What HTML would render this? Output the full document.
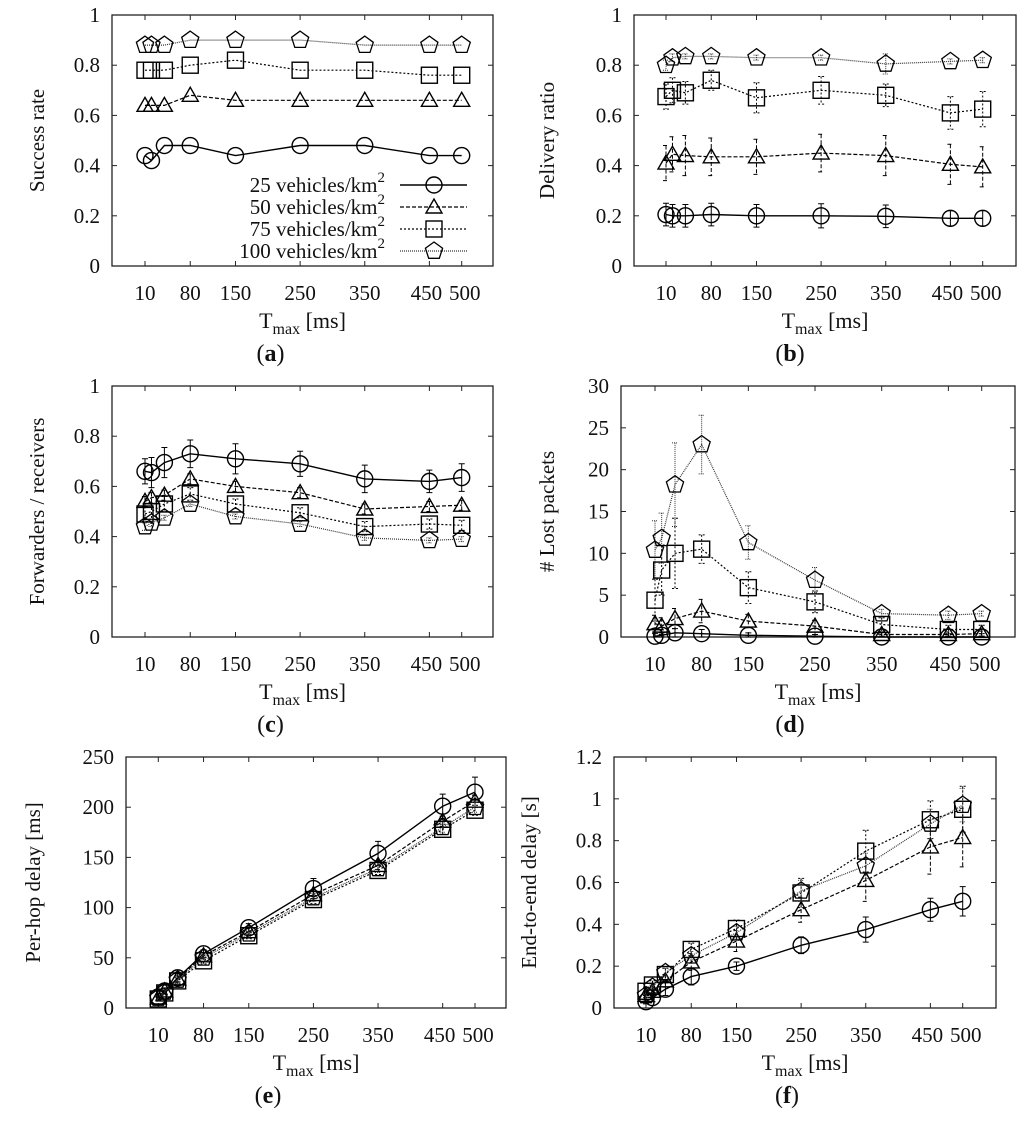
<!DOCTYPE html>
<html><head><meta charset="utf-8"><style>
body{margin:0;background:#fff;}
svg text{font-family:"Liberation Serif",serif;fill:#111;}
</style></head><body>
<svg id="fig" width="1024" height="1117" viewBox="0 0 1024 1117" xmlns="http://www.w3.org/2000/svg"></svg>
<script>
const xVals=[10,20,40,80,150,250,350,450,500];
const xTicks=[10,80,150,250,350,450,500];
const seriesNames=["25 vehicles/km","50 vehicles/km","75 vehicles/km","100 vehicles/km"];
// (a) success rate
const aC=[0.44,0.42,0.48,0.48,0.44,0.48,0.48,0.44,0.44];
const aT=[0.64,0.64,0.64,0.68,0.66,0.66,0.66,0.66,0.66];
const aS=[0.78,0.78,0.78,0.80,0.82,0.78,0.78,0.76,0.76];
const aP=[0.88,0.88,0.88,0.90,0.90,0.90,0.88,0.88,0.88];
// (b) delivery ratio
const bC=[0.205,0.20,0.20,0.205,0.20,0.20,0.198,0.19,0.19];
const bT=[0.41,0.445,0.44,0.435,0.435,0.45,0.44,0.405,0.395];
const bS=[0.675,0.70,0.69,0.74,0.67,0.70,0.68,0.61,0.625];
const bP=[0.80,0.83,0.835,0.835,0.83,0.83,0.805,0.815,0.82];
const bCe=[0.045,0.045,0.045,0.045,0.045,0.048,0.045,0.03,0.03];
const bTe=[0.07,0.07,0.08,0.075,0.07,0.075,0.08,0.08,0.08];
const bSe=[0.05,0.05,0.045,0.04,0.06,0.055,0.045,0.065,0.07];
const bPe=[0.02,0.015,0.01,0.01,0.01,0.01,0.04,0.01,0.01];
// (c) forwarders / receivers
const cC=[0.66,0.655,0.695,0.73,0.71,0.69,0.63,0.62,0.635];
const cT=[0.54,0.555,0.565,0.63,0.60,0.575,0.51,0.52,0.525];
const cS=[0.49,0.50,0.53,0.57,0.53,0.495,0.44,0.45,0.445];
const cP=[0.44,0.455,0.475,0.53,0.48,0.45,0.395,0.385,0.39];
const cCe=[0.05,0.06,0.06,0.055,0.06,0.05,0.055,0.045,0.055];
const cTe=[0.02,0.02,0.02,0.02,0.02,0.02,0.02,0.02,0.02];
const cSe=[0.03,0.03,0.03,0.025,0.02,0.02,0.02,0.02,0.02];
const cPe=[0.015,0.015,0.01,0.01,0.01,0.01,0.01,0.01,0.01];
// (d) lost packets
const dC=[0.1,0.2,0.5,0.4,0.2,0.1,0.0,0.0,0.0];
const dT=[1.6,1.3,2.2,3.1,1.9,1.3,0.3,0.3,0.4];
const dS=[4.4,8.0,10,10.5,5.9,4.2,1.5,0.9,0.9];
const dP=[10.4,11.8,18.2,23,11.3,6.8,2.8,2.6,2.8];
const dCe=[0.3,0.3,0.5,0.5,0.3,0.2,0.1,0.1,0.1];
const dTe=[1,1,1.2,1.4,0.8,0.7,0.3,0.3,0.3];
const dSe=[2.5,3,4.2,1.7,1.9,1.3,0.8,0.5,0.5];
const dPe=[3.5,3,5,3.5,2,1.5,0.5,0.5,0.3];
// (e) per-hop delay
const eC=[11,17,30,54,80,119,154,201,215];
const eT=[10,17,29,52,76,113,142,186,206];
const eS=[9,15,27,47,72,108,137,178,197];
const eP=[10,16,28,50,74,110,139,180,200];
const eCe=[3,3,4,4,4,10,12,12,15];
const eTe=[2,2,3,3,3,4,4,5,6];
const eSe=[2,2,3,3,3,4,4,5,5];
const ePe=[2,2,3,3,3,4,4,5,5];
// (f) end-to-end delay
const fC=[0.03,0.05,0.09,0.15,0.20,0.30,0.375,0.47,0.51];
const fT=[0.06,0.08,0.13,0.22,0.32,0.47,0.61,0.77,0.815];
const fS=[0.08,0.11,0.16,0.28,0.38,0.55,0.75,0.90,0.95];
const fP=[0.06,0.10,0.17,0.25,0.36,0.56,0.68,0.88,0.97];
const fCe=[0.01,0.02,0.03,0.04,0.02,0.04,0.06,0.055,0.07];
const fTe=[0.02,0.02,0.03,0.04,0.05,0.06,0.1,0.13,0.14];
const fSe=[0.02,0.02,0.03,0.03,0.04,0.07,0.1,0.09,0.11];
const fPe=[0.01,0.01,0.02,0.02,0.03,0.05,0.06,0.07,0.08];

const NS="http://www.w3.org/2000/svg";
const svg=document.getElementById('fig');
function mk(tag,attrs,parent){const e=document.createElementNS(NS,tag);for(const k in attrs)e.setAttribute(k,attrs[k]);(parent||svg).appendChild(e);return e;}

const styles=[
 {dash:"",stroke:"#000",w:1.4},
 {dash:"4,2",stroke:"#000",w:1.2},
 {dash:"2,2",stroke:"#000",w:1.2},
 {dash:"1,1",stroke:"#333",w:1.2}];

function marker(g,type,x,y){
 let e;
 if(type===0){e=mk('circle',{cx:x,cy:y,r:8,fill:'none',stroke:'#000','stroke-width':1.4},g);}
 else if(type===1){e=mk('polygon',{points:`${x-8},${y+6} ${x+8},${y+6} ${x},${y-8}`,fill:'none',stroke:'#000','stroke-width':1.4},g);}
 else if(type===2){e=mk('rect',{x:x-8,y:y-8,width:16,height:16,fill:'none',stroke:'#000','stroke-width':1.4},g);}
 else{let p=[];for(let i=0;i<5;i++){const a=-Math.PI/2+i*2*Math.PI/5;p.push((x+9*Math.cos(a)).toFixed(1)+','+(y+9*Math.sin(a)).toFixed(1));}
  e=mk('polygon',{points:p.join(' '),fill:'none',stroke:'#000','stroke-width':1.3},g);}
 return e;
}
const xLabShift={450:-3,500:3};

function panel(cfg){
 const g=mk('g',{});
 
 
 const {L,R,T,B,x10,x500,ymax,yticks,ylabel}=cfg;
 const k=(x500-x10)/490;
 const X=v=>x10+(v-10)*k;
 const Y=v=>B-(v/ymax)*(B-T);
 const box=mk('rect',{x:L,y:T,width:R-L,height:B-T,fill:'none',stroke:'#222','stroke-width':1.3},g);
 
 
 yticks.forEach(t=>{
  const y=Y(t);
  mk('line',{x1:L,x2:L+5,y1:y,y2:y,stroke:'#222'},g);
  mk('line',{x1:R,x2:R-5,y1:y,y2:y,stroke:'#222'},g);
  const tx=mk('text',{x:L-12,y:y+7,'text-anchor':'end','font-size':21},g);
  tx.textContent=String(t);
  
  
 });
 xTicks.forEach(t=>{
  const x=X(t);
  mk('line',{x1:x,x2:x,y1:B,y2:B-5,stroke:'#222'},g);
  mk('line',{x1:x,x2:x,y1:T,y2:T+5,stroke:'#222'},g);
  const tx=mk('text',{x:x+(xLabShift[t]||0),y:B+34,'text-anchor':'middle','font-size':21},g);
  tx.textContent=String(t);
  
  
 });
 const xt=mk('text',{x:(L+R)/2,y:B+62,'text-anchor':'middle','font-size':22},g);
 xt.innerHTML='T<tspan font-size="16" dy="6">max</tspan><tspan dy="-6"> [ms]</tspan>';
 
 
 const yt=mk('text',{x:0,y:0,'text-anchor':'middle','font-size':21,transform:`translate(${cfg.ylx},${(T+B)/2}) rotate(-90)`},g);
 yt.textContent=ylabel;
 
 
 const pl=mk('text',{x:(L+R)/2+cfg.plOff,y:B+95,'text-anchor':'middle','font-size':24},g);
 pl.innerHTML='(<tspan font-weight="bold">'+cfg.id+'</tspan>)';
 
 
 cfg.series.forEach((s,si)=>{
  const sg=mk('g',{},g);
  
  
  const st=styles[si];
  const pts=s.map((v,i)=>X(xVals[i]).toFixed(1)+','+Y(v).toFixed(1)).join(' ');
  const ln=mk('polyline',{points:pts,fill:'none',stroke:st.stroke,'stroke-width':st.w,'stroke-dasharray':st.dash},sg);
  
  
  if(cfg.errs){
   const er=cfg.errs[si];
   s.forEach((v,i)=>{
    const x=X(xVals[i]);const y1=Y(v+er[i]),y2=Y(Math.max(0,v-er[i]));
    const eb=mk('path',{d:`M${x},${y1}V${y2}M${x-3},${y1}H${x+3}M${x-3},${y2}H${x+3}`,stroke:st.stroke,'stroke-width':1,'stroke-dasharray':st.dash,fill:'none'},sg);
    
    
   });
  }
  s.forEach((v,i)=>{
   const m=marker(sg,si,X(xVals[i]),Y(v));
   
   
  });
 });
 if(cfg.legend){
  const lg=mk('g',{},g);
  
  
  seriesNames.forEach((n,i)=>{
   const y=185+i*22;
   const t=mk('text',{x:385,y:y+7,'text-anchor':'end','font-size':21},lg);
   t.innerHTML=n+'<tspan font-size="15" dy="-10">2</tspan>';
   
   
   const st=styles[i];
   mk('line',{x1:400,x2:467,y1:y,y2:y,stroke:st.stroke,'stroke-width':st.w,'stroke-dasharray':st.dash},lg);
   marker(lg,i,434,y);
  });
 }
}
const yt01=[0,0.2,0.4,0.6,0.8,1];
panel({id:'a',L:112,R:493,T:15,B:266,x10:145,x500:461.7,ymax:1,yticks:yt01,ylabel:'Success rate',ylx:44,plOff:-32,series:[aC,aT,aS,aP],legend:true});
panel({id:'b',L:634,R:1016,T:15,B:266,x10:666,x500:982.7,ymax:1,yticks:yt01,ylabel:'Delivery ratio',ylx:554,plOff:-35,series:[bC,bT,bS,bP],errs:[bCe,bTe,bSe,bPe]});
panel({id:'c',L:112,R:493,T:386,B:637,x10:145,x500:461.7,ymax:1,yticks:yt01,ylabel:'Forwarders / receivers',ylx:44,plOff:-32,series:[cC,cT,cS,cP],errs:[cCe,cTe,cSe,cPe]});
panel({id:'d',L:621,R:1015,T:386,B:637,x10:655,x500:981.7,ymax:30,yticks:[0,5,10,15,20,25,30],ylabel:'# Lost packets',ylx:554,plOff:-28,series:[dC,dT,dS,dP],errs:[dCe,dTe,dSe,dPe]});
panel({id:'e',L:126,R:506,T:757,B:1008,x10:158.3,x500:475,ymax:250,yticks:[0,50,100,150,200,250],ylabel:'Per-hop delay [ms]',ylx:40,plOff:-48,series:[eC,eT,eS,eP],errs:[eCe,eTe,eSe,ePe]});
panel({id:'f',L:614,R:996,T:757,B:1008,x10:646,x500:962.7,ymax:1.2,yticks:[0,0.2,0.4,0.6,0.8,1,1.2],ylabel:'End-to-end delay [s]',ylx:536,plOff:-18,series:[fC,fT,fS,fP],errs:[fCe,fTe,fSe,fPe]});
</script>
</body></html>
